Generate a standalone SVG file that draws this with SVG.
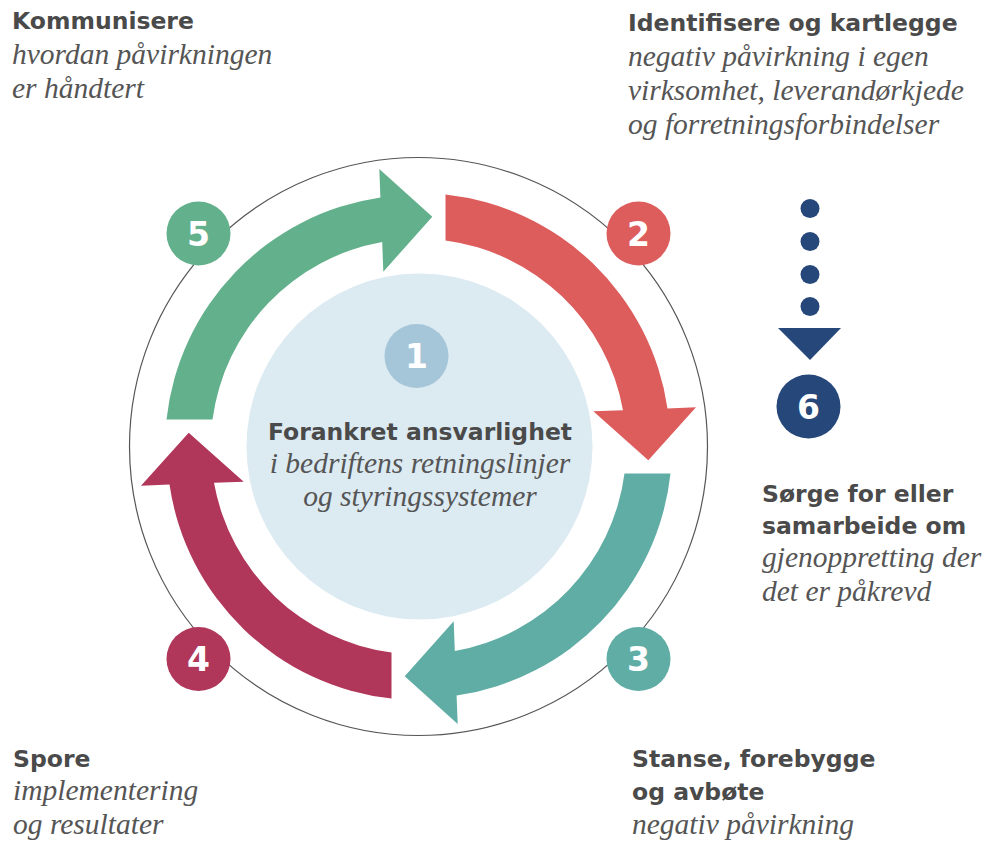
<svg xmlns="http://www.w3.org/2000/svg" width="987" height="844" viewBox="0 0 987 844">
<style>
.b{font-family:"DejaVu Sans","Liberation Sans",sans-serif;font-weight:bold;font-size:23.5px;fill:#4a4a4a}
.i{font-family:"Liberation Serif","DejaVu Serif",serif;font-style:italic;font-size:29.5px;fill:#555555}
.n{font-family:"DejaVu Sans","Liberation Sans",sans-serif;font-weight:bold;font-size:33px;fill:#ffffff;text-anchor:middle}
.c{text-anchor:middle}
</style>
<defs>
<path id="arr" d="M -252,-27 A 252 252 0 0 1 -38.1,-249 L -39.2,-277.5 L 13.8,-229.8 L -35.2,-174.8 L -36.3,-204.5 A 208 208 0 0 0 -206,-27 Z"/>
</defs>
<rect width="987" height="844" fill="#ffffff"/>
<circle cx="418.5" cy="446.5" r="289" fill="none" stroke="#555555" stroke-width="1.2"/>
<g id="connectors">
<use href="#arr" transform="translate(418.5 446.5)" fill="#63b08c"/>
<use href="#arr" transform="translate(418.5 446.5) rotate(90)" fill="#dd5c5c"/>
<use href="#arr" transform="translate(418.5 446.5) rotate(180)" fill="#60ada5"/>
<use href="#arr" transform="translate(418.5 446.5) rotate(270)" fill="#b0365a"/>
<g fill="#25477a">
<circle cx="810" cy="208.5" r="9.5"/>
<circle cx="810" cy="241.5" r="9.5"/>
<circle cx="810" cy="274.5" r="9.5"/>
<circle cx="810" cy="306.5" r="9.5"/>
<polygon points="778,328 841,328 810,360"/>
</g>
</g>
<g id="step1">
<circle cx="419.5" cy="446.5" r="173" fill="#dceaf2"/>
<circle cx="416.5" cy="356" r="32" fill="#a5c5d8"/>
<text class="n" x="416.5" y="368">1</text>
<text class="b c" x="420" y="440">Forankret ansvarlighet</text>
<text class="i c" x="420" y="473">i bedriftens retningslinjer</text>
<text class="i c" x="420" y="506">og styringssystemer</text>
</g>
<g id="step2">
<circle cx="638.5" cy="233.5" r="32" fill="#dd5c5c"/>
<text class="n" x="638.5" y="245.5">2</text>
<text class="b" x="628" y="31">Identifisere og kartlegge</text>
<text class="i" x="628" y="66">negativ påvirkning i egen</text>
<text class="i" x="628" y="100">virksomhet, leverandørkjede</text>
<text class="i" x="628" y="134">og forretningsforbindelser</text>
</g>
<g id="step3">
<circle cx="638.5" cy="659" r="32" fill="#60ada5"/>
<text class="n" x="638.5" y="671">3</text>
<text class="b" x="632" y="767">Stanse, forebygge</text>
<text class="b" x="632" y="800">og avbøte</text>
<text class="i" x="632" y="834">negativ påvirkning</text>
</g>
<g id="step4">
<circle cx="198.5" cy="659" r="32" fill="#b0365a"/>
<text class="n" x="198.5" y="671">4</text>
<text class="b" x="13" y="767">Spore</text>
<text class="i" x="13" y="800">implementering</text>
<text class="i" x="13" y="834">og resultater</text>
</g>
<g id="step5">
<circle cx="198.5" cy="233.5" r="32" fill="#63b08c"/>
<text class="n" x="198.5" y="245.5">5</text>
<text class="b" x="12" y="29">Kommunisere</text>
<text class="i" x="12" y="64">hvordan påvirkningen</text>
<text class="i" x="12" y="98">er håndtert</text>
</g>
<g id="step6">
<circle cx="808.5" cy="406.5" r="32" fill="#25477a"/>
<text class="n" x="808.5" y="418.5">6</text>
<text class="b" x="762" y="502">Sørge for eller</text>
<text class="b" x="762" y="534">samarbeide om</text>
<text class="i" x="762" y="567">gjenoppretting der</text>
<text class="i" x="762" y="601">det er påkrevd</text>
</g>
</svg>
